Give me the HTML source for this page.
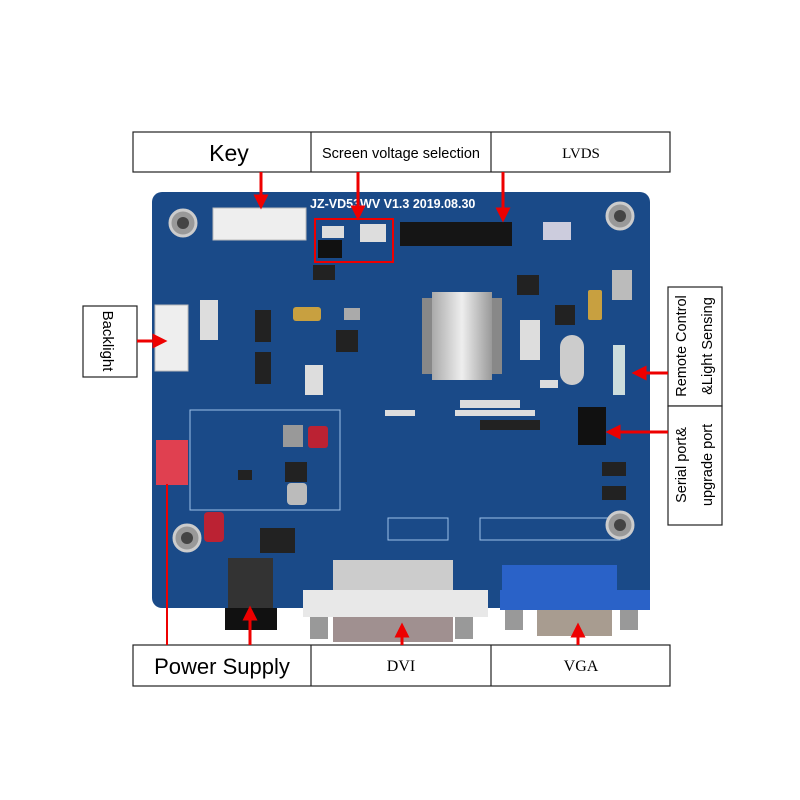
<!DOCTYPE html>
<html><head><meta charset="utf-8"><style>
body{margin:0;background:#fff;width:800px;height:800px;overflow:hidden}
svg{display:block}
.s{font-family:"Liberation Sans",sans-serif}
.m{font-family:"Liberation Serif",serif}
</style></head><body>
<svg width="800" height="800" viewBox="0 0 800 800" xmlns="http://www.w3.org/2000/svg">
<defs>
<marker id="ar" markerWidth="5" markerHeight="5" refX="3.5" refY="2.5" orient="auto"><path d="M0,0 L5,2.5 L0,5 z" fill="#e00"/></marker>
<linearGradient id="hs" x1="0" x2="1"><stop offset="0" stop-color="#aaa"/><stop offset=".5" stop-color="#eee"/><stop offset="1" stop-color="#999"/></linearGradient>
</defs>
<rect x="152" y="192" width="498" height="416" rx="10" fill="#1a4a88"/>
<rect x="190" y="410" width="150" height="100" fill="none" stroke="#9cc0e8" stroke-width="1"/>
<rect x="480" y="518" width="140" height="22" fill="none" stroke="#9cc0e8"/>
<rect x="388" y="518" width="60" height="22" fill="none" stroke="#9cc0e8"/>
<g fill="#999" stroke="#ccc" stroke-width="3"><circle cx="183" cy="223" r="13"/><circle cx="620" cy="216" r="13"/><circle cx="187" cy="538" r="13"/><circle cx="620" cy="525" r="13"/></g>
<g fill="#444"><circle cx="183" cy="223" r="6"/><circle cx="620" cy="216" r="6"/><circle cx="187" cy="538" r="6"/><circle cx="620" cy="525" r="6"/></g>
<text x="310" y="208" class="s" font-size="12.5" font-weight="bold" fill="#fff">JZ-VD53WV V1.3   2019.08.30</text>
<rect x="213" y="208" width="93" height="32" fill="#eee" stroke="#bbb"/>
<rect x="322" y="226" width="22" height="12" fill="#ddd"/><rect x="360" y="224" width="26" height="18" fill="#ddd"/>
<rect x="318" y="240" width="24" height="18" fill="#111"/>
<rect x="400" y="222" width="112" height="24" fill="#151515"/>
<rect x="543" y="222" width="28" height="18" fill="#ccd"/>
<rect x="422" y="298" width="80" height="76" fill="#888"/>
<rect x="432" y="292" width="60" height="88" fill="url(#hs)"/>
<rect x="560" y="335" width="24" height="50" rx="12" fill="#ccc"/>
<g fill="#222"><rect x="255" y="310" width="16" height="32"/><rect x="255" y="352" width="16" height="32"/><rect x="336" y="330" width="22" height="22"/><rect x="313" y="265" width="22" height="15"/><rect x="285" y="462" width="22" height="20"/><rect x="517" y="275" width="22" height="20"/><rect x="555" y="305" width="20" height="20"/><rect x="602" y="462" width="24" height="14"/><rect x="602" y="486" width="24" height="14"/><rect x="480" y="420" width="60" height="10"/><rect x="260" y="528" width="35" height="25"/><rect x="238" y="470" width="14" height="10"/></g>
<g fill="#c8a040"><rect x="293" y="307" width="28" height="14" rx="3"/><rect x="588" y="290" width="14" height="30" rx="2"/></g>
<g fill="#b23"><rect x="308" y="426" width="20" height="22" rx="3"/><rect x="204" y="512" width="20" height="30" rx="4"/></g>
<rect x="287" y="483" width="20" height="22" rx="4" fill="#bbb"/>
<rect x="283" y="425" width="20" height="22" fill="#999"/>
<rect x="344" y="308" width="16" height="12" fill="#aaa"/>
<g fill="#ddd"><rect x="460" y="400" width="60" height="8"/><rect x="455" y="410" width="80" height="6"/><rect x="385" y="410" width="30" height="6"/><rect x="540" y="380" width="18" height="8"/><rect x="200" y="300" width="18" height="40"/><rect x="305" y="365" width="18" height="30"/><rect x="520" y="320" width="20" height="40"/></g>
<rect x="613" y="345" width="12" height="50" fill="#cdd"/>
<rect x="612" y="270" width="20" height="30" fill="#bbb"/>
<rect x="155" y="305" width="33" height="66" fill="#eee" stroke="#bbb"/>
<rect x="156" y="440" width="32" height="45" fill="#e04050"/>
<rect x="578" y="407" width="28" height="38" fill="#111"/>
<rect x="228" y="558" width="45" height="60" fill="#333"/>
<rect x="225" y="608" width="52" height="22" fill="#111"/>
<rect x="333" y="560" width="120" height="40" fill="#ccc"/>
<rect x="303" y="590" width="185" height="27" fill="#e8e8e8"/>
<rect x="310" y="617" width="18" height="22" fill="#999"/><rect x="455" y="617" width="18" height="22" fill="#999"/>
<rect x="333" y="617" width="120" height="25" fill="#a09090"/>
<rect x="502" y="565" width="115" height="30" fill="#2a62c8"/>
<rect x="500" y="590" width="150" height="20" fill="#2a62c8"/>
<rect x="505" y="610" width="18" height="20" fill="#999"/><rect x="620" y="610" width="18" height="20" fill="#999"/>
<rect x="537" y="610" width="75" height="26" fill="#a89c90"/>
<rect x="315" y="219" width="78" height="43" fill="none" stroke="#e00" stroke-width="2"/>
<g fill="#fff" stroke="#222" stroke-width="1.2">
<rect x="133" y="132" width="537" height="40"/><line x1="311" y1="132" x2="311" y2="172"/><line x1="491" y1="132" x2="491" y2="172"/>
<rect x="133" y="645" width="537" height="41"/><line x1="311" y1="645" x2="311" y2="686"/><line x1="491" y1="645" x2="491" y2="686"/>
<rect x="83" y="306" width="54" height="71"/>
<rect x="668" y="287" width="54" height="119"/><rect x="668" y="406" width="54" height="119"/>
</g>
<text x="229" y="161" text-anchor="middle" class="s" font-size="23">Key</text>
<text x="401" y="158" text-anchor="middle" class="s" font-size="14.5">Screen voltage selection</text>
<text x="581" y="158" text-anchor="middle" class="m" font-size="15">LVDS</text>
<text x="222" y="674" text-anchor="middle" class="s" font-size="22">Power Supply</text>
<text x="401" y="671" text-anchor="middle" class="m" font-size="16">DVI</text>
<text x="581" y="671" text-anchor="middle" class="m" font-size="16">VGA</text>
<text transform="translate(103,341) rotate(90)" text-anchor="middle" class="s" font-size="15">Backlight</text>
<text transform="translate(686,346) rotate(-90)" text-anchor="middle" class="s" font-size="14.5">Remote Control</text>
<text transform="translate(712,346) rotate(-90)" text-anchor="middle" class="s" font-size="14.5">&amp;Light Sensing</text>
<text transform="translate(686,465) rotate(-90)" text-anchor="middle" class="s" font-size="14.5">Serial port&amp;</text>
<text transform="translate(712,465) rotate(-90)" text-anchor="middle" class="s" font-size="14.5">upgrade port</text>
<g stroke="#e00" stroke-width="3" fill="none" marker-end="url(#ar)">
<line x1="261" y1="172" x2="261" y2="205"/>
<line x1="358" y1="172" x2="358" y2="216"/>
<line x1="503" y1="172" x2="503" y2="218"/>
<line x1="137" y1="341" x2="163" y2="341"/>
<line x1="668" y1="373" x2="636" y2="373"/>
<line x1="668" y1="432" x2="610" y2="432"/>
<line x1="250" y1="645" x2="250" y2="610"/>
<line x1="402" y1="645" x2="402" y2="627"/>
<line x1="578" y1="645" x2="578" y2="627"/>
</g>
<line x1="167" y1="484" x2="167" y2="645" stroke="#e00" stroke-width="2"/>
</svg>
</body></html>
